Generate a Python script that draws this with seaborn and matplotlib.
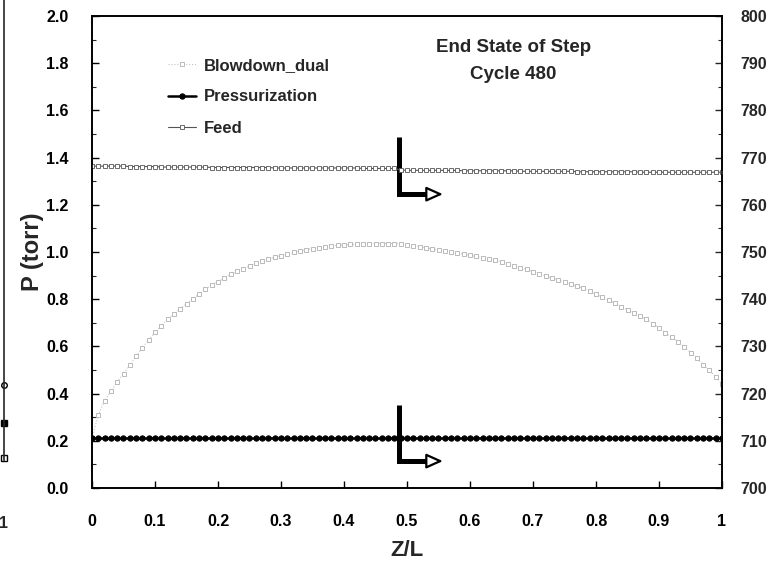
import numpy as np
import pandas as pd
import matplotlib
matplotlib.use("Agg")
import matplotlib.pyplot as plt
from matplotlib.ticker import MultipleLocator
import seaborn as sns

sns.set_style("ticks")
plt.rcParams["font.family"] = ["Liberation Sans", "DejaVu Sans"]
plt.rcParams["font.weight"] = "bold"

# axial position along the bed
z = np.linspace(0, 1, 101)

# Blowdown_dual pressure profile (torr, left axis)
p_blowdown = [0.21, 0.31, 0.37, 0.41, 0.45, 0.485, 0.52, 0.558, 0.595, 0.628,
              0.66, 0.688, 0.715, 0.738, 0.76, 0.78, 0.80, 0.822, 0.843, 0.86,
              0.875, 0.89, 0.905, 0.918, 0.93, 0.941, 0.952, 0.961, 0.97, 0.978,
              0.985, 0.992, 0.998, 1.004, 1.01, 1.014, 1.018, 1.022, 1.025, 1.028,
              1.03, 1.032, 1.033, 1.034, 1.035, 1.036, 1.036, 1.036, 1.036, 1.034,
              1.030, 1.027, 1.023, 1.018, 1.013, 1.008, 1.004, 1.000, 0.996, 0.991,
              0.986, 0.981, 0.976, 0.971, 0.966, 0.958, 0.950, 0.942, 0.934, 0.926,
              0.917, 0.908, 0.899, 0.890, 0.882, 0.873, 0.864, 0.855, 0.846, 0.834,
              0.821, 0.808, 0.796, 0.783, 0.769, 0.755, 0.741, 0.728, 0.714, 0.697,
              0.678, 0.658, 0.639, 0.619, 0.599, 0.574, 0.549, 0.523, 0.498, 0.472,
              0.44]

# Pressurization and Feed profiles (torr, right axis)
p_press = [710.6] * 101
p_feed = [768.2, 768.2, 768.2, 768.2, 768.2, 768.2, 768.1, 768.1, 768.1, 768.1,
          768.1, 768.0, 768.0, 768.0, 768.0, 768.0, 768.0, 768.0, 768.0, 767.9,
          767.9, 767.9, 767.9, 767.9, 767.9, 767.9, 767.9, 767.9, 767.9, 767.8,
          767.8, 767.8, 767.8, 767.8, 767.8, 767.8, 767.8, 767.8, 767.8, 767.8,
          767.8, 767.8, 767.8, 767.7, 767.7, 767.7, 767.7, 767.7, 767.7, 767.4,
          767.3, 767.3, 767.3, 767.3, 767.3, 767.3, 767.3, 767.3, 767.3, 767.2,
          767.2, 767.2, 767.2, 767.2, 767.2, 767.2, 767.2, 767.2, 767.1, 767.1,
          767.1, 767.1, 767.1, 767.1, 767.1, 767.1, 767.1, 767.0, 767.0, 767.0,
          767.0, 767.0, 767.0, 767.0, 767.0, 767.0, 767.0, 766.9, 766.9, 766.9,
          766.9, 766.9, 766.9, 766.9, 766.9, 766.9, 766.9, 766.9, 766.9, 766.9,
          766.9]

# end points of the neighbouring panel (left edge)
prev_end = [0.30, 0.15, 0.01]

left_ticks = np.round(np.arange(0, 2.01, 0.2), 1)
right_ticks = np.arange(700, 801, 10)
x_ticks = np.round(np.arange(0, 1.01, 0.1), 1)
x_labels = ["0", "0.1", "0.2", "0.3", "0.4", "0.5", "0.6", "0.7", "0.8", "0.9", "1"]

W, H = 778, 562
fig = plt.figure(figsize=(W / 100, H / 100), dpi=100)

# main axes
ax = fig.add_axes([92 / W, 1 - 488 / H, 630 / W, 472 / H])
ax2 = ax.twinx()

df_b = pd.DataFrame({"z": z, "p": p_blowdown})
df_p = pd.DataFrame({"z": z, "p": p_press})
df_f = pd.DataFrame({"z": z, "p": p_feed})

sns.lineplot(data=df_b, x="z", y="p", ax=ax, color="#c4c4c4", lw=0.8,
             linestyle=":", marker="s", markersize=3.2, markerfacecolor="white",
             markeredgecolor="#b0b0b0", markeredgewidth=0.6, label="Blowdown_dual",
             legend=False)
sns.lineplot(data=df_p, x="z", y="p", ax=ax2, color="black", lw=1.8,
             marker="o", markersize=3.8, markerfacecolor="black",
             markeredgecolor="black", label="Pressurization", legend=False)
sns.lineplot(data=df_f, x="z", y="p", ax=ax2, color="#555555", lw=0.8,
             marker="s", markersize=3.4, markerfacecolor="white",
             markeredgecolor="#555555", markeredgewidth=0.6, label="Feed",
             legend=False)

ax.set_xlim(0, 1)
ax.set_ylim(0, 2)
ax2.set_ylim(700, 800)
ax.set_xticks(x_ticks)
ax.set_xticklabels(x_labels)
ax.set_yticks(left_ticks)
ax.set_yticklabels([f"{v:.1f}" for v in left_ticks])
ax.yaxis.set_minor_locator(MultipleLocator(0.1))
ax2.set_yticks(right_ticks)
ax2.yaxis.set_minor_locator(MultipleLocator(5))

for a in (ax, ax2):
    for s in a.spines.values():
        s.set_visible(True)
        s.set_linewidth(1.2)
        s.set_color("black")
ax.tick_params(axis="both", which="major", direction="in", length=5, width=1,
               labelsize=11.5, colors="black")
ax.tick_params(axis="x", pad=19)
ax.tick_params(axis="y", pad=17)
ax.tick_params(axis="both", which="minor", direction="in", length=3, width=0.8)
ax2.tick_params(axis="y", which="major", direction="in", length=5, width=1,
                labelsize=11.5, pad=13)
ax2.tick_params(axis="y", which="minor", direction="in", length=3, width=0.8)
for lab in ax.get_xticklabels() + ax.get_yticklabels() + ax2.get_yticklabels():
    lab.set_fontweight("bold")

ax.set_xlabel("Z/L", fontsize=16, fontweight="bold", labelpad=8)
ax.set_ylabel("P (torr)", fontsize=17, fontweight="bold")
ax.yaxis.set_label_coords(-48 / 630, 0.5)
ax2.set_ylabel("")

# L-shaped arrows pointing to the right-hand axis
x_stem, x_shaft, x_tip = 0.487, 0.535, 0.557
for y_top, y_bot in [(1.487, 1.245), (0.352, 0.114)]:
    ax.plot([x_stem, x_stem, x_shaft], [y_top, y_bot, y_bot], color="black",
            lw=3.6, solid_capstyle="butt", solid_joinstyle="miter", zorder=5)
    ax.annotate("", xy=(x_tip, y_bot), xytext=(x_shaft - 0.005, y_bot),
                arrowprops=dict(arrowstyle="-|>,head_length=1.0,head_width=0.45",
                                mutation_scale=10, lw=1.6, fc="white",
                                ec="black", shrinkA=0, shrinkB=0), zorder=6)

ax.text(0.669, 1 - 45 / 472, "End State of Step\nCycle 480",
        transform=ax.transAxes, ha="center", va="center", fontsize=13.5,
        fontweight="bold", linespacing=1.8)

handles = ax.get_lines()[:1] + ax2.get_lines()[:2]
labels = ["Blowdown_dual", "Pressurization", "Feed"]
leg = ax.legend(handles, labels, loc="upper left",
                bbox_to_anchor=(69 / 630, 1 - 35 / 472), frameon=False,
                prop={"size": 12, "weight": "bold"}, handlelength=1.7,
                handletextpad=0.5, labelspacing=1.0, borderaxespad=0)

# right edge of the neighbouring panel
ax0 = fig.add_axes([-100 / W, 1 - 460 / H, 104 / W, 500 / H])
ax0.plot([1], prev_end[:1], marker="o", markersize=4, markerfacecolor="white",
         markeredgecolor="black", lw=0)
ax0.plot([1], prev_end[1:2], marker="s", markersize=5, color="black", lw=0)
ax0.plot([1], prev_end[2:3], marker="s", markersize=4, markerfacecolor="white",
         markeredgecolor="black", lw=0)
ax0.set_xlim(0, 1)
ax0.set_ylim(0, 2)
for k, s in ax0.spines.items():
    s.set_visible(k == "right")
    s.set_linewidth(1.2)
ax0.set_yticks([])
ax0.set_xticks([1])
ax0.set_xticklabels(["1"], fontweight="bold")
ax0.tick_params(axis="x", length=0, labelsize=11.5, pad=40)
ax0.patch.set_alpha(0)
for m in ax0.get_lines():
    m.set_clip_on(False)

fig.savefig("out.png", dpi=100)
